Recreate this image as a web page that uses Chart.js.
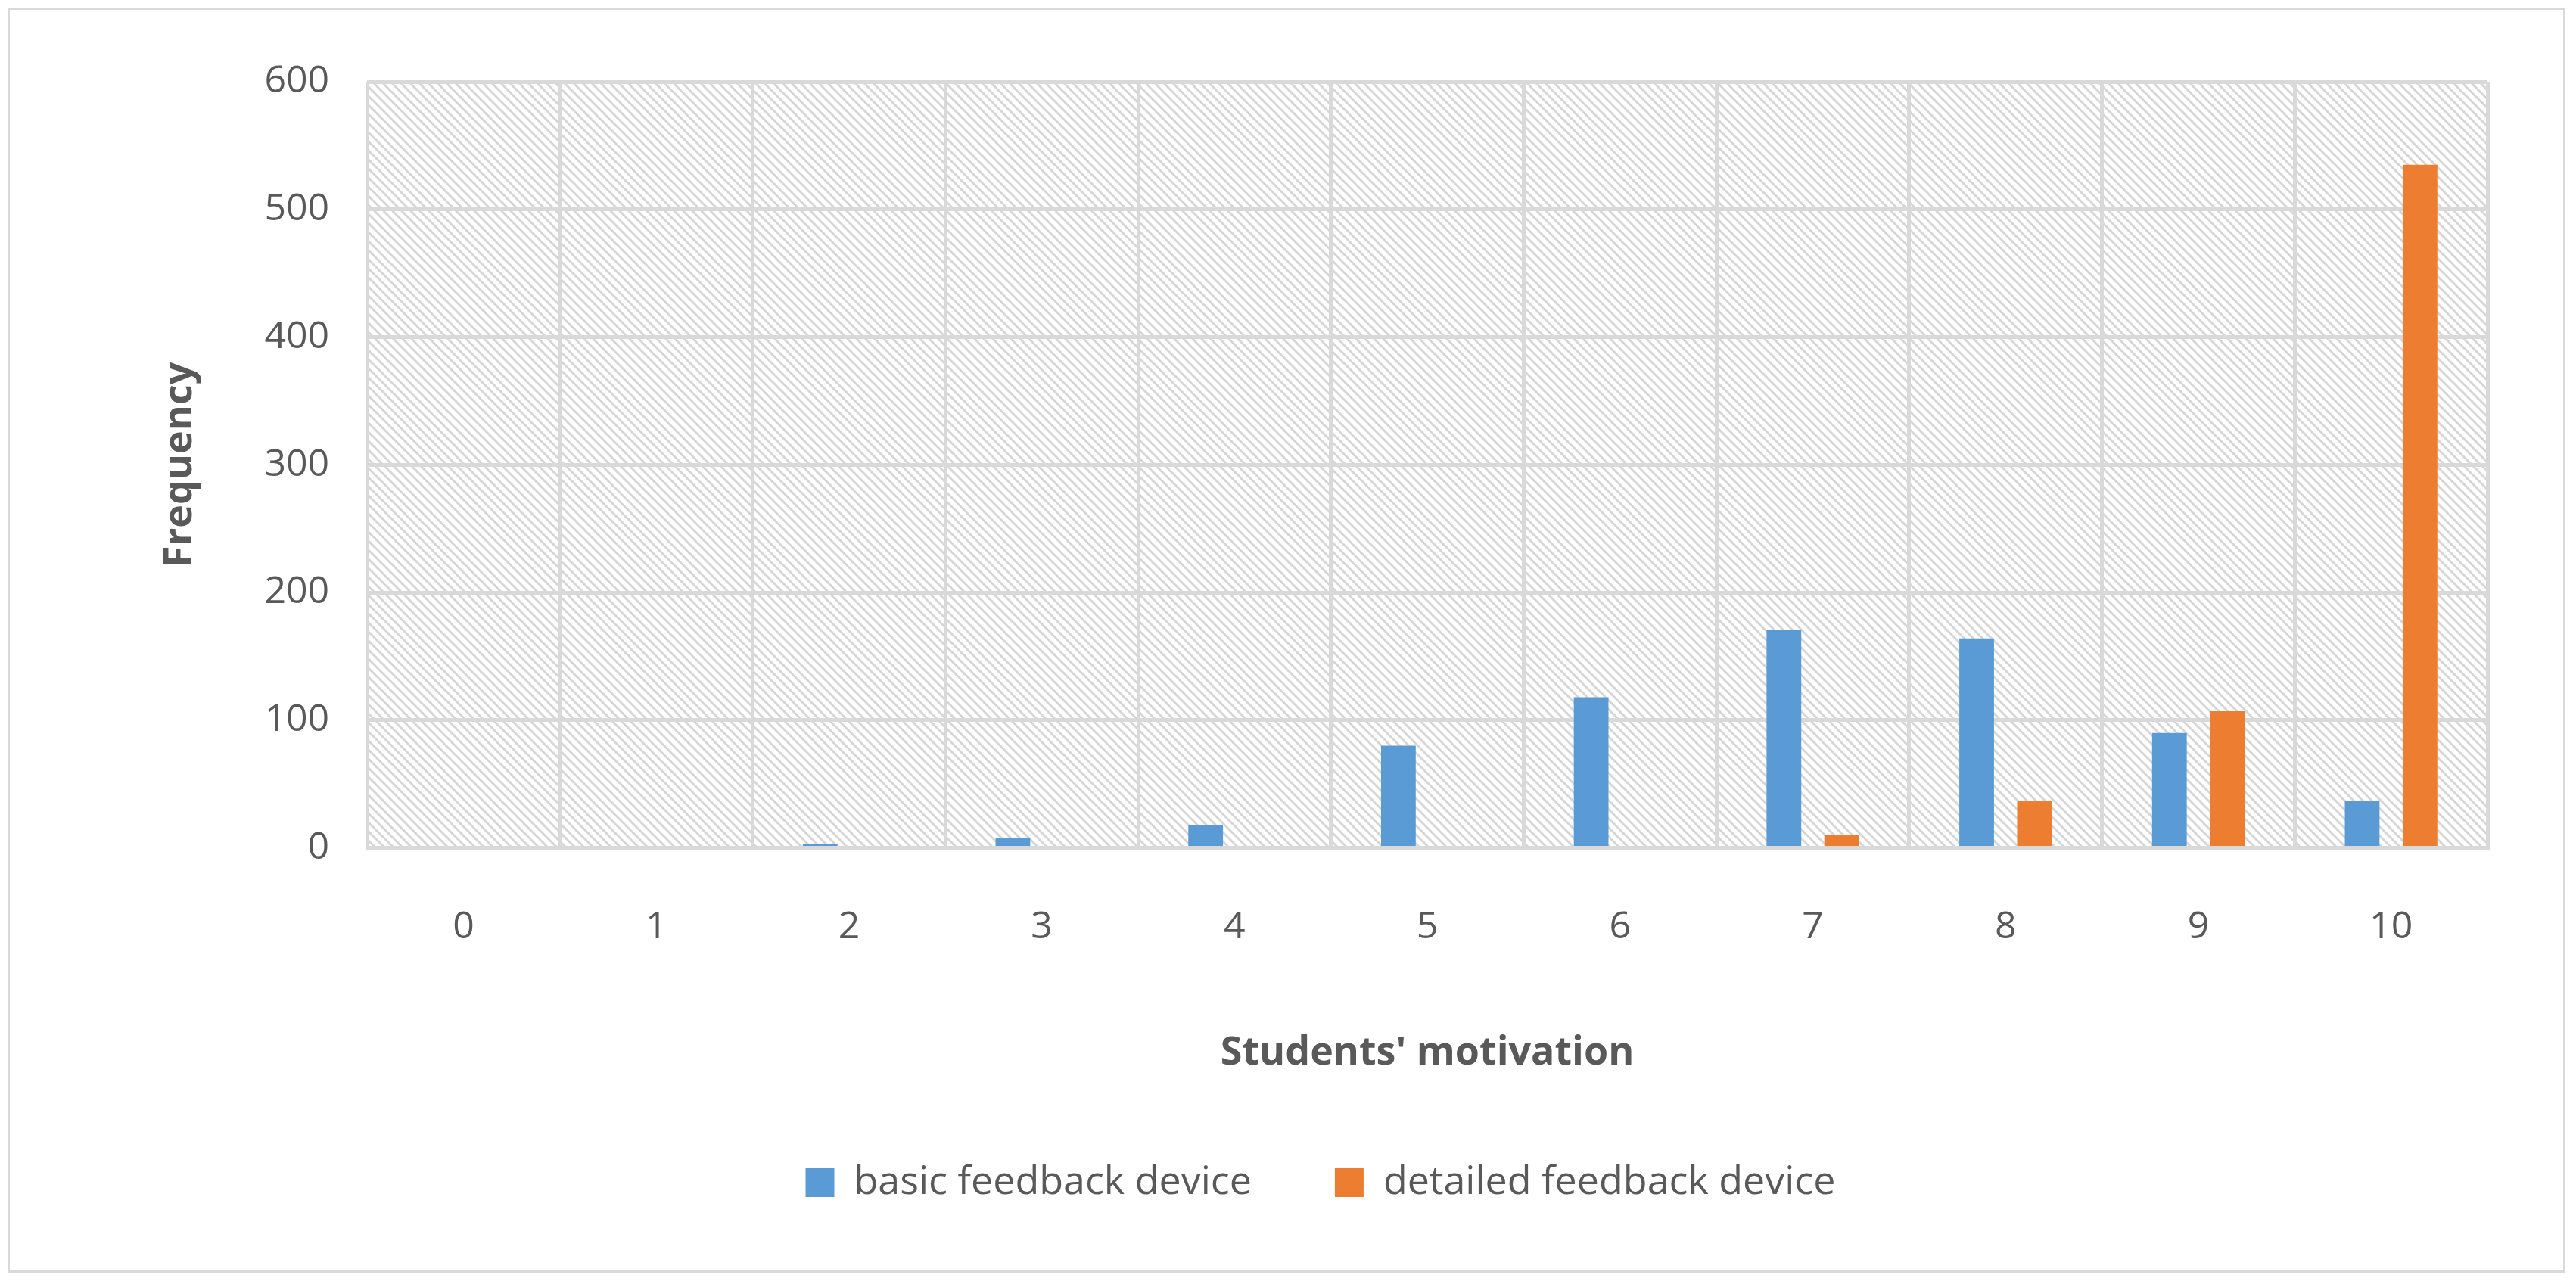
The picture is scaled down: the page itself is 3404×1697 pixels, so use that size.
<!DOCTYPE html>
<html>
<head>
<script src="https://cdn.jsdelivr.net/npm/chart.js@4"></script>
<style>
  body { margin: 0; background: #fff; }
  #wrap { position: absolute; left: 10px; top: 10px; width: 3380px; height: 1672px; border: 3px solid #d9d9d9; box-sizing: border-box; }
</style>
</head>
<body>
<div id="wrap"><canvas id="myChart"></canvas></div>
<script>
const categories = ['0', '1', '2', '3', '4', '5', '6', '7', '8', '9', '10'];
const basicValues = [0, 0, 3, 8, 18, 80, 118, 171, 164, 90, 37];
const detailedValues = [0, 0, 0, 0, 0, 0, 0, 10, 37, 107, 535];
const yTicks = [0, 100, 200, 300, 400, 500, 600];

// hatch pattern for the plot background
function makeHatch() {
  const c = document.createElement('canvas');
  c.width = 12; c.height = 12;
  const g = c.getContext('2d');
  g.fillStyle = '#fff';
  g.fillRect(0, 0, 12, 12);
  g.strokeStyle = '#d6d6d6';
  g.lineWidth = 3;
  g.beginPath();
  g.moveTo(0, 0); g.lineTo(12, 12);
  g.moveTo(-6, 6); g.lineTo(6, 18);
  g.moveTo(6, -6); g.lineTo(18, 6);
  g.stroke();
  return c;
}

const hatchBg = {
  id: 'hatchBg',
  beforeDraw(chart) {
    const { ctx, chartArea: a } = chart;
    ctx.save();
    ctx.fillStyle = ctx.createPattern(makeHatch(), 'repeat');
    ctx.fillRect(a.left, a.top, a.right - a.left, a.bottom - a.top);
    ctx.restore();
  }
};

const ctx = document.getElementById('myChart').getContext('2d');
new Chart(ctx, {
  type: 'bar',
  plugins: [hatchBg],
  data: {
    labels: categories,
    datasets: [
      { label: 'basic feedback device', data: basicValues, backgroundColor: '#5b9bd5', barPercentage: 0.6, categoryPercentage: 0.6 },
      { label: 'detailed feedback device', data: detailedValues, backgroundColor: '#ed7d31', barPercentage: 0.6, categoryPercentage: 0.6 }
    ]
  },
  options: {
    responsive: true,
    maintainAspectRatio: false,
    animation: false,
    layout: { padding: { left: 190, right: 100, top: 95, bottom: 80 } },
    plugins: {
      legend: {
        position: 'bottom',
        labels: { font: { family: 'Open Sans', size: 52 }, color: '#595959', boxWidth: 38, boxHeight: 38, padding: 110 }
      },
      tooltip: { enabled: false }
    },
    scales: {
      x: {
        grid: { color: '#d9d9d9', lineWidth: 5, offset: true, drawTicks: false },
        border: { color: '#d9d9d9', width: 5 },
        ticks: { font: { family: 'Open Sans', size: 50 }, color: '#595959', padding: 75 },
        title: { display: true, text: "Students' motivation", font: { family: 'Open Sans', size: 52, weight: 'bold' }, color: '#595959', padding: { top: 30 } }
      },
      y: {
        min: 0, max: 600,
        afterBuildTicks(axis) { axis.ticks = yTicks.map(v => ({ value: v })); },
        grid: { color: '#d9d9d9', lineWidth: 5, drawTicks: false },
        border: { display: false },
        ticks: { font: { family: 'Open Sans', size: 50 }, color: '#595959', padding: 50 },
        title: { display: true, text: 'Frequency', font: { family: 'Open Sans', size: 52, weight: 'bold' }, color: '#595959', padding: { bottom: 30 } }
      }
    }
  }
});
</script>
</body>
</html>
